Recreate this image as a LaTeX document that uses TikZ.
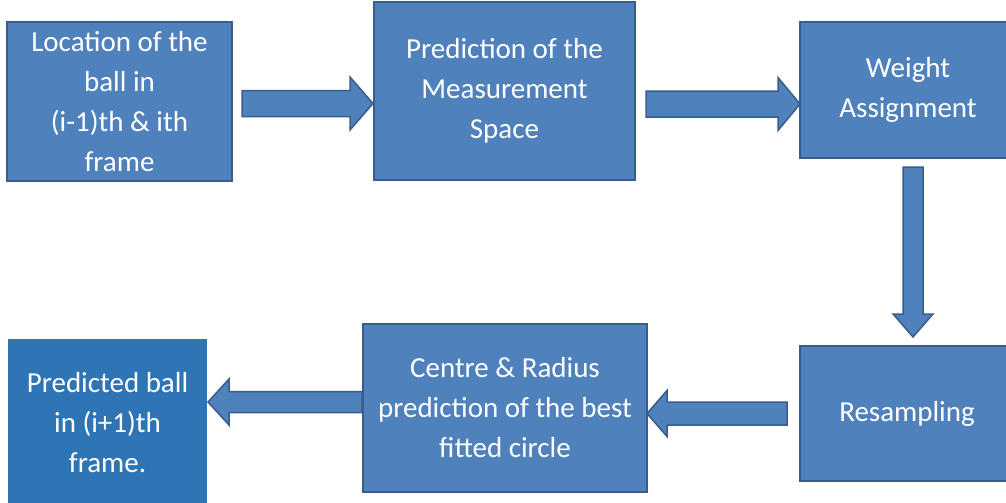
\documentclass[tikz,border=0pt]{standalone}
\usepackage{fontspec}
\setmainfont{Carlito}
\usetikzlibrary{calc}
\definecolor{boxfill}{HTML}{4F81BD}
\definecolor{boxline}{HTML}{385D8A}
\definecolor{predfill}{HTML}{2E75B6}
\begin{document}
\begin{tikzpicture}[x=1pt,y=-1pt,
  box/.style={draw=boxline, line width=1.5pt, fill=boxfill, text=white, align=center,
    font=\fontsize{29}{40}\selectfont, inner sep=0pt},
  predbox/.style={box, draw=none, fill=predfill},
  barrow/.style={draw=boxline, line width=1.5pt, fill=boxfill, line join=miter}]
\useasboundingbox (0,0) rectangle (1006,503);
\clip (0,0) rectangle (1006,503);
% arrows
\coordinate (a1s) at (242,103.5);
\coordinate (a1e) at (373,103.5);
\draw[barrow] ($(a1s)+(0,-13)$) -- ($(a1e)+(-23,-13)$) -- ($(a1e)+(-23,-26.5)$) -- (a1e)
  -- ($(a1e)+(-23,26.5)$) -- ($(a1e)+(-23,13)$) -- ($(a1s)+(0,13)$) -- cycle;
\coordinate (a2s) at (646,104);
\coordinate (a2e) at (800,104);
\draw[barrow] ($(a2s)+(0,-13)$) -- ($(a2e)+(-22,-13)$) -- ($(a2e)+(-22,-26.5)$) -- (a2e)
  -- ($(a2e)+(-22,26.5)$) -- ($(a2e)+(-22,13)$) -- ($(a2s)+(0,13)$) -- cycle;
\coordinate (a3s) at (913,167);
\coordinate (a3e) at (913,337);
\draw[barrow] ($(a3s)+(-10,0)$) -- ($(a3e)+(-10,-23)$) -- ($(a3e)+(-20,-23)$) -- (a3e)
  -- ($(a3e)+(20,-23)$) -- ($(a3e)+(10,-23)$) -- ($(a3s)+(10,0)$) -- cycle;
\coordinate (a4s) at (787,413.5);
\coordinate (a4e) at (647,413.5);
\draw[barrow] ($(a4s)+(0,-11.5)$) -- ($(a4e)+(20,-11.5)$) -- ($(a4e)+(20,-23)$) -- (a4e)
  -- ($(a4e)+(20,23)$) -- ($(a4e)+(20,11.5)$) -- ($(a4s)+(0,11.5)$) -- cycle;
\coordinate (a5s) at (362,402);
\coordinate (a5e) at (208,402);
\draw[barrow] ($(a5s)+(0,-10.5)$) -- ($(a5e)+(21,-10.5)$) -- ($(a5e)+(21,-23)$) -- (a5e)
  -- ($(a5e)+(21,23)$) -- ($(a5e)+(21,10.5)$) -- ($(a5s)+(0,10.5)$) -- cycle;
% boxes
\node[box, minimum width=225pt, minimum height=159pt] (loc) at (119.5,101.5)
  {Location of the\\ball in\\(i-1)th \& ith\\frame};
\node[box, minimum width=261pt, minimum height=178pt] (pred) at (504.5,91)
  {Prediction of the\\Measurement\\Space};
\node[box, minimum width=216pt, minimum height=136pt] (weight) at (908,90)
  {Weight\\Assignment};
\node[box, minimum width=214pt, minimum height=135pt] (resamp) at (907,413.5)
  {Resampling};
\node[box, minimum width=284pt, minimum height=168pt] (centre) at (505,408)
  {Centre \& Radius\\prediction of the best\\fitted circle};
\node[predbox, minimum width=199pt, minimum height=168pt] (ball) at (107.5,423)
  {Predicted ball\\in (i+1)th\\frame.};
\end{tikzpicture}
\end{document}
